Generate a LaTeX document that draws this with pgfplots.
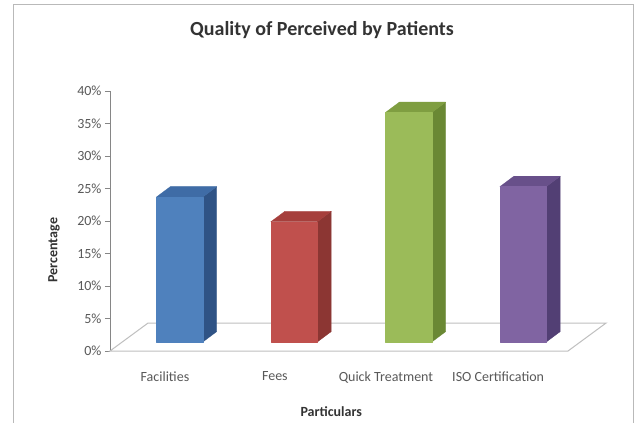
\documentclass[border=0pt]{standalone}
\usepackage{fontspec}
\setmainfont{Carlito}
\usepackage{pgfplots}
\usepackage{pgfplotstable}
\pgfplotsset{compat=1.18}

% Excel 2007 palette: front, top, side
\definecolor{blueF}{HTML}{4F81BD}\definecolor{blueT}{HTML}{3F6CA6}\definecolor{blueS}{HTML}{2F5385}
\definecolor{redF}{HTML}{C0504D}\definecolor{redT}{HTML}{A63F3C}\definecolor{redS}{HTML}{8C3633}
\definecolor{greenF}{HTML}{9BBB59}\definecolor{greenT}{HTML}{7F9E41}\definecolor{greenS}{HTML}{6A8834}
\definecolor{purpF}{HTML}{8064A2}\definecolor{purpT}{HTML}{68508A}\definecolor{purpS}{HTML}{523F74}
\definecolor{axgray}{HTML}{868686}
\definecolor{txtgray}{HTML}{595959}

\pgfplotstableread{
x v
0 22.3
1 18.5
2 35.3
3 23.9
}\bars

% one pseudo-3D column: index, front, top, side colour
\newcommand{\drawbar}[4]{%
  \pgfplotstablegetelem{#1}{v}\of\bars
  \let\val\pgfplotsretval
  \pgfmathsetmacro\xl{#1-0.095}
  \pgfmathsetmacro\xr{#1+0.31}
  \pgfmathsetmacro\xlb{#1-0.095+0.122}
  \pgfmathsetmacro\xb{#1+0.31+0.122}
  \pgfmathsetmacro\yb{1.385}
  \pgfmathsetmacro\yt{1.385+\val}
  \pgfmathsetmacro\ybb{1.385+1.6}
  \pgfmathsetmacro\ytb{1.385+1.6+\val}
  \addplot[fill=#4, draw=#4, line width=0.3pt, line join=round]
    coordinates {(\xr,\yb) (\xb,\ybb) (\xb,\ytb) (\xr,\yt)} -- cycle;
  \addplot[fill=#3, draw=#3, line width=0.3pt, line join=round]
    coordinates {(\xl,\yt) (\xlb,\ytb) (\xb,\ytb) (\xr,\yt)} -- cycle;
  \addplot[fill=#2, draw=#2, line width=0.3pt, line join=round]
    coordinates {(\xl,\yb) (\xr,\yb) (\xr,\yt) (\xl,\yt)} -- cycle;
}

\begin{document}
\begin{tikzpicture}
\path[use as bounding box, fill=white] (0,0) rectangle (639bp,423bp);
\draw[gray!55, line width=1bp] (13bp,-2bp) -- (13bp,418bp) -- (633bp,418bp) -- (633bp,-2bp);

\begin{axis}[
    at={(110bp,72bp)}, anchor=south west,
    scale only axis, width=458bp, height=260bp,
    xmin=-0.5, xmax=3.5, ymin=0, ymax=40,
    clip=false,
    axis lines*=left,
    x axis line style={draw=none},
    y axis line style={draw=axgray},
    xtick={-0.02,0.94,1.91,2.89},
    xticklabels={Facilities, Fees, Quick Treatment, ISO Certification},
    x tick style={draw=none},
    xticklabel style={anchor=north, yshift=-12bp, text=txtgray, font=\fontsize{14bp}{16bp}\selectfont},
    ytick={0,5,...,40},
    yticklabel={\pgfmathprintnumber{\tick}\%},
    y tick style={draw=axgray},
    tick align=outside,
    major tick length=5bp,
    yticklabel style={text=txtgray, font=\fontsize{14bp}{16bp}\selectfont},
    /pgf/number format/assume math mode=true,
    xlabel={Particulars},
    xlabel style={at={(axis description cs:0.483,-0.235)}, anchor=center,
      font=\bfseries\fontsize{14bp}{16bp}\selectfont, text=black!80},
    ylabel={Percentage},
    ylabel style={at={(axis description cs:-0.122,0.388)}, anchor=center, rotate=0,
      font=\bfseries\fontsize{14bp}{16bp}\selectfont, text=black!80},
    title={Quality of Perceived by Patients},
    title style={at={(axis description cs:0.463,1.21)}, anchor=center,
      font=\bfseries\fontsize{20bp}{24bp}\selectfont, text=black!80},
]
  % floor
  \addplot[draw=gray!50, fill=white, line width=1bp]
    coordinates {(-0.5,0) (3.5,0) (3.832,4.3) (-0.168,4.3)} -- cycle;
  \drawbar{0}{blueF}{blueT}{blueS}
  \drawbar{1}{redF}{redT}{redS}
  \drawbar{2}{greenF}{greenT}{greenS}
  \drawbar{3}{purpF}{purpT}{purpS}
\end{axis}
\end{tikzpicture}
\end{document}
